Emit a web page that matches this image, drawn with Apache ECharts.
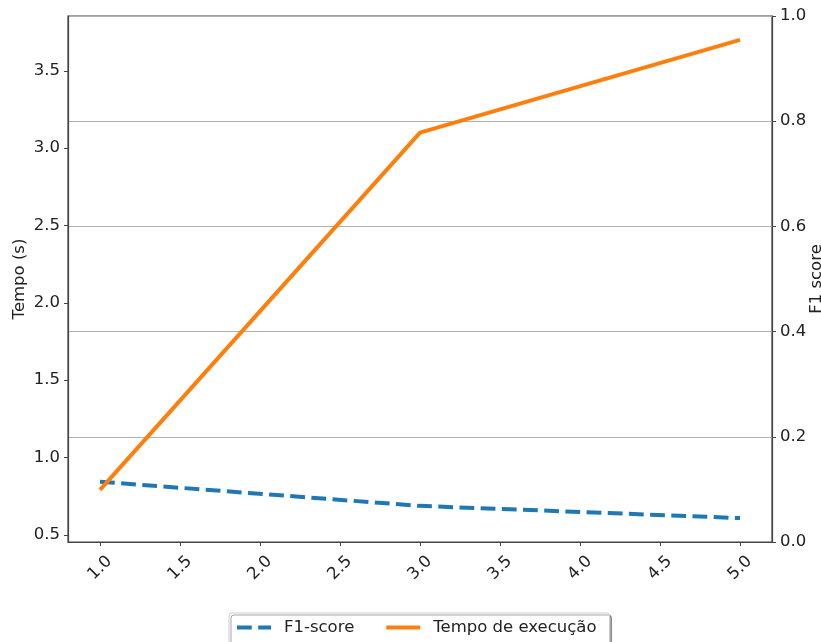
<!DOCTYPE html>
<html>
<head>
<meta charset="utf-8">
<script src="https://cdn.jsdelivr.net/npm/echarts@6/dist/echarts.min.js"></script>
<style>html,body{margin:0;padding:0;background:#fff}#c{width:821px;height:642px}</style>
</head>
<body>
<div id="c"></div>
<script>
var xValues = [1.0, 3.0, 5.0];
var f1Score = [0.843, 0.687, 0.608];
var tempo = [0.79, 3.1, 3.7];
var xTicks = [1.0, 1.5, 2.0, 2.5, 3.0, 3.5, 4.0, 4.5, 5.0];
var leftTicks = [0.5, 1.0, 1.5, 2.0, 2.5, 3.0, 3.5];
var seriesNames = ['F1-score', 'Tempo de execução'];

var font = 'DejaVu Sans';
var fs = 16.5;
var axisCol = '#444';
var chart = echarts.init(document.getElementById('c'), null, {renderer: 'canvas'});
chart.setOption({
  animation: false,
  grid: {left: 68, right: 49, top: 16, bottom: 100, containLabel: false, outerBoundsMode: 'none',
    show: true, borderColor: axisCol, borderWidth: 1.2, backgroundColor: 'transparent'},
  legend: {
    data: seriesNames,
    left: 229, top: 613,
    padding: [6, 13, 10, 6],
    itemWidth: 34, itemHeight: 8, itemGap: 30,
    borderColor: '#cccccc', borderWidth: 1, borderRadius: 3,
    backgroundColor: '#fff',
    shadowColor: 'rgba(0,0,0,0.35)', shadowOffsetX: 2, shadowOffsetY: 2, shadowBlur: 0,
    itemStyle: {opacity: 0},
    lineStyle: {width: 4},
    textStyle: {fontFamily: font, fontSize: fs, color: '#222', padding: [0, 0, 0, 8]}
  },
  xAxis: {
    type: 'value', min: 0.8, max: 5.2,
    axisLine: {show: true, lineStyle: {color: axisCol, width: 1.2}},
    axisTick: {show: true, length: 4, customValues: xTicks, lineStyle: {color: axisCol}},
    splitLine: {show: false},
    axisLabel: {
      customValues: xTicks, rotate: 45, align: 'center', verticalAlign: 'middle', margin: 26,
      fontFamily: font, fontSize: fs, color: '#222',
      formatter: function (v) { return v.toFixed(1); }
    }
  },
  yAxis: [{
    type: 'value', min: 0.4534, max: 3.8546, position: 'left',
    name: 'Tempo (s)', nameLocation: 'middle', nameGap: 40, nameRotate: 90, nameMoveOverlap: false,
    nameTextStyle: {fontFamily: font, fontSize: fs, color: '#222'},
    axisLine: {show: true, lineStyle: {color: axisCol, width: 1.2}},
    axisTick: {show: true, length: 4, customValues: leftTicks, lineStyle: {color: axisCol}},
    splitLine: {show: false},
    axisLabel: {customValues: leftTicks, margin: 8, fontFamily: font, fontSize: fs, color: '#222',
      formatter: function (v) { return v.toFixed(1); }}
  }, {
    type: 'value', min: 0, max: 1, interval: 0.2, position: 'right',
    name: 'F1 score', nameLocation: 'middle', nameGap: 36, nameRotate: 90, nameMoveOverlap: false,
    nameTextStyle: {fontFamily: font, fontSize: fs, color: '#222'},
    axisLine: {show: true, lineStyle: {color: axisCol, width: 1.2}},
    axisTick: {show: true, length: 4, lineStyle: {color: axisCol}},
    splitLine: {show: true, lineStyle: {color: '#b0b0b0', width: 1}},
    axisLabel: {margin: 8, fontFamily: font, fontSize: fs, color: '#222',
      formatter: function (v) { return v.toFixed(1); }}
  }],
  series: [{
    name: seriesNames[0], type: 'line', yAxisIndex: 0,
    data: xValues.map(function (x, i) { return [x, f1Score[i]]; }),
    symbol: 'none', showSymbol: false,
    lineStyle: {color: '#1f77b4', width: 4, type: [14.8, 6.4]},
    itemStyle: {color: '#1f77b4'}, z: 2
  }, {
    name: seriesNames[1], type: 'line', yAxisIndex: 0,
    data: xValues.map(function (x, i) { return [x, tempo[i]]; }),
    symbol: 'none', showSymbol: false,
    lineStyle: {color: '#ff7f0e', width: 4},
    itemStyle: {color: '#ff7f0e'}, z: 3
  }]
});
</script>
</body>
</html>
